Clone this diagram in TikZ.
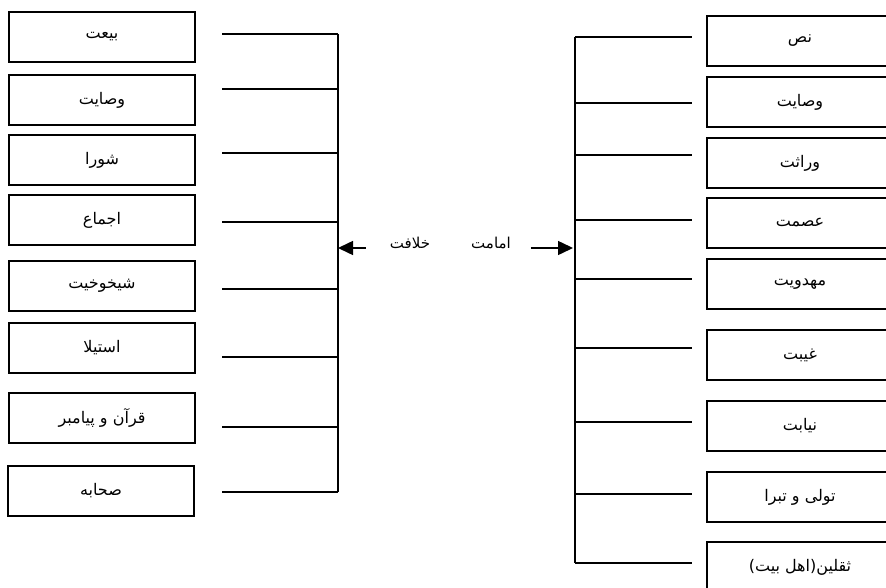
\documentclass[tikz,border=0pt]{standalone}
\usepackage{fontspec}
\newfontfamily\arabicfont[Script=Arabic]{DejaVu Sans}
\TeXXeTstate=1
\usetikzlibrary{arrows.meta}

\begin{document}
\begin{tikzpicture}[x=1pt,y=-1pt,
  box/.style={draw,line width=1.8pt,minimum width=186pt,minimum height=50pt,inner sep=0pt,font=\arabicfont\fontsize{16}{18}\selectfont},
  lbl/.style={inner sep=0pt,font=\arabicfont\fontsize{15}{17}\selectfont},
  link/.style={line width=1.5pt},
  arr/.style={line width=1.5pt,-{Triangle[length=15pt,width=14pt]}}]
  \useasboundingbox (0,0) rectangle (886,588);
  \clip (0,0) rectangle (886,588);
  % left column
  \node[box] (l1) at (102,37) {\beginR بیعت\endR};
  \node[box] (l2) at (102,100) {\beginR وصایت\endR};
  \node[box] (l3) at (102,160) {\beginR شورا\endR};
  \node[box] (l4) at (102,220) {\beginR اجماع\endR};
  \node[box] (l5) at (102,286) {\beginR شیخوخیت\endR};
  \node[box] (l6) at (102,348) {\beginR استیلا\endR};
  \node[box] (l7) at (102,418) {\beginR قرآن و پیامبر\endR};
  \node[box] (l8) at (101,491) {\beginR صحابه\endR};
  % right column
  \node[box] (r1) at (800,41) {\beginR نص\endR};
  \node[box] (r2) at (800,102) {\beginR وصایت\endR};
  \node[box] (r3) at (800,163) {\beginR وراثت\endR};
  \node[box] (r4) at (800,223) {\beginR عصمت\endR};
  \node[box] (r5) at (800,284) {\beginR مهدویت\endR};
  \node[box] (r6) at (800,355) {\beginR غیبت\endR};
  \node[box] (r7) at (800,426) {\beginR نیابت\endR};
  \node[box] (r8) at (800,497) {\beginR تولی و تبرا\endR};
  \node[box] (r9) at (800,567) {\beginR ثقلین(اهل بیت)\endR};
  % middle labels
  \node[lbl] (khilafa) at (410,243) {\beginR خلافت\endR};
  \node[lbl] (imama) at (491,243) {\beginR امامت\endR};
  % left bus
  \coordinate (lj1) at (338,34);
  \coordinate (lj2) at (338,89);
  \coordinate (lj3) at (338,153);
  \coordinate (lj4) at (338,222);
  \coordinate (lj5) at (338,289);
  \coordinate (lj6) at (338,357);
  \coordinate (lj7) at (338,427);
  \coordinate (lj8) at (338,492);
  \coordinate (lmid) at (338,248);
  \draw[link] (lj1) -- (lj8);
  \foreach \j in {1,...,8} \draw[link] (lj\j) -- ++(-116,0);
  % right bus
  \coordinate (rj1) at (575,37);
  \coordinate (rj2) at (575,103);
  \coordinate (rj3) at (575,155);
  \coordinate (rj4) at (575,220);
  \coordinate (rj5) at (575,279);
  \coordinate (rj6) at (575,348);
  \coordinate (rj7) at (575,422);
  \coordinate (rj8) at (575,494);
  \coordinate (rj9) at (575,563);
  \coordinate (rmid) at (575,248);
  \draw[link] (rj1) -- (rj9);
  \foreach \j in {1,...,9} \draw[link] (rj\j) -- ++(117,0);
  % arrows
  \draw[arr,shorten <=24pt] (khilafa.west |- lmid) -- (lmid);
  \draw[arr,shorten <=20pt,shorten >=2pt] (imama.east |- rmid) -- (rmid);
\end{tikzpicture}
\end{document}
